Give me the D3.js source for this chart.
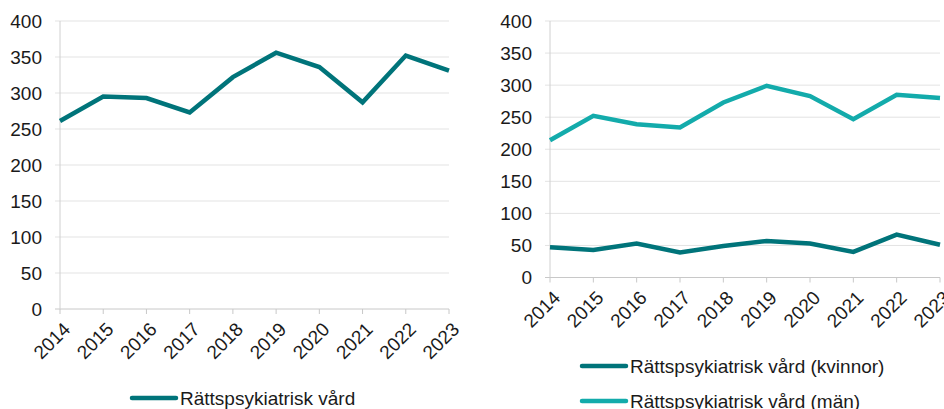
<!DOCTYPE html>
<html><head><meta charset="utf-8">
<script src="https://cdn.jsdelivr.net/npm/d3@7"></script>
<style>
html,body{margin:0;padding:0;background:#fff;}
svg{display:block;font-family:"Liberation Sans",Arial,sans-serif;}
</style></head>
<body>
<svg id="c" width="944" height="409"></svg>
<script>
const years = ["2014","2015","2016","2017","2018","2019","2020","2021","2022","2023"];
const yTicks = [0,50,100,150,200,250,300,350,400];
const totalValues = [261,295,293,273,322,356,336,287,352,331];
const womenValues = [47,43,53,39,49,57,53,40,67,51];
const menValues = [214,252,239,234,273,299,283,247,285,280];
const seriesNames = ["Rättspsykiatrisk vård","Rättspsykiatrisk vård (kvinnor)","Rättspsykiatrisk vård (män)"];
const colors = {dark:"#00747a", light:"#13abab"};

const svg = d3.select("#c");
const FS = 19;

function panel(cfg){
  const x = d3.scalePoint().domain(years).range([cfg.x0, cfg.x1]);
  const y = d3.scaleLinear().domain([0,400]).range([cfg.y0, cfg.y1]);
  const g = svg.append("g");
  g.selectAll("line.grid").data(yTicks).enter().append("line")
    .attr("x1", cfg.x0 - 5).attr("x2", cfg.x1)
    .attr("y1", d=>y(d)).attr("y2", d=>y(d))
    .attr("stroke", d=> d===0 ? "#c8c8c8" : "#e3e3e3").attr("stroke-width",1);
  g.append("line").attr("x1",cfg.x0).attr("x2",cfg.x0).attr("y1",y(400)).attr("y2",y(0))
    .attr("stroke","#d0d0d0");
  g.selectAll("text.yl").data(yTicks).enter().append("text")
    .attr("x", cfg.x0 - 18).attr("y", d=>y(d)).attr("dy","0.35em")
    .attr("text-anchor","end").attr("font-size",FS).attr("fill","#1a1a1a").text(d=>d);
  g.selectAll("line.xt").data(years).enter().append("line")
    .attr("x1", d=>x(d)).attr("x2", d=>x(d)).attr("y1", y(0)).attr("y2", y(0)+5)
    .attr("stroke","#c8c8c8");
  g.selectAll("text.xl").data(years).enter().append("text")
    .attr("transform", d=>`translate(${x(d)+2},${y(0)+12}) rotate(-45)`)
    .attr("text-anchor","end").attr("dy","0.7em").attr("font-size",FS).attr("fill","#1a1a1a").text(d=>d);
  const line = d3.line().x((d,i)=>x(years[i])).y(d=>y(d));
  cfg.series.forEach(s=>{
    g.append("path").datum(s.values).attr("d", line).attr("fill","none")
      .attr("stroke", s.color).attr("stroke-width",4.5).attr("stroke-linejoin","miter");
  });
  cfg.legend.forEach(l=>{
    g.append("line").attr("x1",l.x).attr("x2",l.x+44).attr("y1",l.y).attr("y2",l.y)
      .attr("stroke",l.color).attr("stroke-width",4.5).attr("stroke-linecap","round");
    g.append("text").attr("x",l.x+48).attr("y",l.y).attr("dy","0.35em")
      .attr("font-size",FS).attr("fill","#1a1a1a").text(l.name);
  });
}

panel({x0:60, x1:449, y0:309, y1:21,
  series:[{values:totalValues, color:colors.dark}],
  legend:[{x:132, y:398, color:colors.dark, name:seriesNames[0]}]});
panel({x0:550, x1:940, y0:277.5, y1:21,
  series:[{values:womenValues, color:colors.dark},{values:menValues, color:colors.light}],
  legend:[{x:582, y:366, color:colors.dark, name:seriesNames[1]},
          {x:582, y:401, color:colors.light, name:seriesNames[2]}]});
</script>
</body></html>
